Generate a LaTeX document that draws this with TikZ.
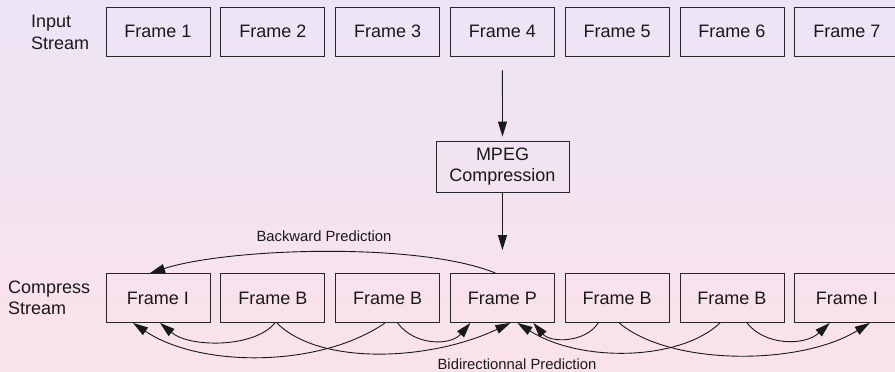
\documentclass[tikz,border=0pt]{standalone}
\usepackage{fontspec}
\setmainfont{Liberation Sans}
\usetikzlibrary{arrows.meta,calc}
\definecolor{bgtop}{RGB}{236,228,246}
\definecolor{bgbot}{RGB}{250,226,234}
\begin{document}
\begin{tikzpicture}[x=1pt,y=-1pt,
  framebox/.style={draw=black!85, line width=0.9pt, minimum width=104pt, minimum height=49pt, inner sep=0pt, font=\fontsize{18}{21.6}\selectfont, text=black!90},
  sidelbl/.style={align=left, anchor=west, font=\fontsize{18}{21.6}\selectfont, inner sep=0pt, text=black!90},
  smalllbl/.style={font=\fontsize{14.8}{18}\selectfont, inner sep=0pt, text=black!90},
  conn/.style={draw=black!90, line width=0.9pt, -{Triangle[length=15pt,width=9pt]}},
]
\clip (0,0) rectangle (895,372);
\shade[top color=bgtop,bottom color=bgbot] (0,0) rectangle (895,372);

% input stream
\node[sidelbl] (inlbl) at (31,32.5) {Input\\Stream};
\foreach \i in {1,...,7}{
  \node[framebox] (f\i) at ({158+114.8*(\i-1)},31.5) {Frame \i};
}

% MPEG
\node[framebox, minimum width=133pt, minimum height=51pt, align=center] (mpeg) at (502.5,166.5) {MPEG\\Compression};

% compressed stream
\node[sidelbl] (cslbl) at (8,298) {Compress\\Stream};
\node[framebox] (c1) at (158,298) {Frame I};
\node[framebox] (c2) at (272.8,298) {Frame B};
\node[framebox] (c3) at (387.6,298) {Frame B};
\node[framebox] (c4) at (502.4,298) {Frame P};
\node[framebox] (c5) at (617.2,298) {Frame B};
\node[framebox] (c6) at (732,298) {Frame B};
\node[framebox] (c7) at (846.8,298) {Frame I};

% vertical arrows
\draw[conn, shorten <=14pt, shorten >=4pt] (f4.south) -- (mpeg.north);
\draw[conn, shorten >=23pt] (mpeg.south) -- (c4.north);

% backward prediction
\draw[conn] ($(c4.north)+(-7,0)$) .. controls +(-75,-31) and +(80,-25.5) .. ($(c1.north)+(-8,0)$);
\node[smalllbl] (bwlbl) at (324,236.5) {Backward Prediction};

% bidirectional prediction
\draw[conn] ($(c2.south)+(2,0)$) .. controls +(-20,25) and +(30,25) .. ($(c1.south)+(2,0)$);
\draw[conn] ($(c3.south)+(-2.6,0)$) .. controls +(-65,45) and +(67,45) .. ($(c1.south)+(-25,0)$);
\draw[conn] ($(c2.south)+(4,0)$) .. controls +(43,43) and +(-80,38) .. ($(c4.south)+(8,0)$);
\draw[conn] ($(c3.south)+(10,0)$) .. controls +(17,23) and +(-20,23) .. ($(c4.south)+(-32,0)$);
\draw[conn] ($(c5.south)+(-19,0)$) .. controls +(-13,20) and +(17,20) .. ($(c4.south)+(31,0)$);
\draw[conn] ($(c6.south)+(-12,0)$) .. controls +(-40,38) and +(63,40) .. ($(c4.south)+(15,0)$);
\draw[conn] ($(c5.south)+(2,0)$) .. controls +(51,43) and +(-70,43) .. ($(c7.south)+(23,0)$);
\draw[conn] ($(c6.south)+(15,0)$) .. controls +(18,23) and +(-25,23) .. ($(c7.south)+(-17,0)$);
\node[smalllbl] (bdlbl) at (517,364) {Bidirectionnal Prediction};
\end{tikzpicture}
\end{document}
